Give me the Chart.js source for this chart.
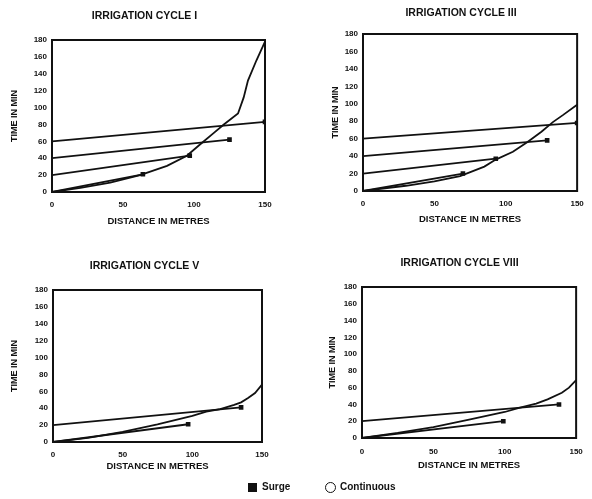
<!DOCTYPE html>
<html>
<head>
<meta charset="utf-8">
<script src="https://cdn.jsdelivr.net/npm/chart.js@4.4.0/dist/chart.umd.min.js"></script>
<style>
  html, body { margin: 0; padding: 0; background: #fff; overflow: hidden; }
  body { width: 592px; height: 499px; position: relative; }
  canvas { position: absolute; }
  .key { position: absolute; font: bold 10px 'Liberation Sans', Arial, sans-serif; color: #111; }
  .sq { position: absolute; left: 248px; top: 483px; width: 9px; height: 9px; background: #111; }
  .ring { position: absolute; left: 325px; top: 482px; width: 9px; height: 9px; border: 1.5px solid #111; border-radius: 50%; }
</style>
</head>
<body>
<canvas id="cycle1" width="292" height="235" style="left:0;top:0"></canvas>
<canvas id="cycle3" width="292" height="235" style="left:300px;top:0"></canvas>
<canvas id="cycle5" width="292" height="235" style="left:0;top:250px"></canvas>
<canvas id="cycle8" width="292" height="235" style="left:300px;top:250px"></canvas>
<div class="sq"></div><div class="key" style="left:262px;top:481px">Surge</div>
<div class="ring"></div><div class="key" style="left:340px;top:481px">Continuous</div>
<script>
// Irrigation cycle I
const cycle1ContDist = [0, 20, 41, 62, 81, 95, 104, 114, 121, 131, 135, 138, 144, 150];
const cycle1ContTime = [0, 5, 11, 20, 31, 43, 56, 70, 80, 93, 112, 132, 156, 178];
const cycle1SurgeStart = [0, 20, 40, 60];
const cycle1SurgeEndDist = [64, 97, 125, 150];
const cycle1SurgeEndTime = [21, 43, 62, 83];

// Irrigation cycle III
const cycle3ContDist = [0, 30, 50, 68, 85, 93, 105, 115, 125, 133, 140, 150];
const cycle3ContTime = [0, 6, 11, 17, 28, 36, 45, 56, 68, 79, 87, 99];
const cycle3SurgeStart = [0, 20, 40, 60];
const cycle3SurgeEndDist = [70, 93, 129, 150];
const cycle3SurgeEndTime = [20, 37, 58, 78];

// Irrigation cycle V
const cycle5ContDist = [0, 25, 50, 75, 100, 110, 120, 130, 135, 140, 145, 150];
const cycle5ContTime = [0, 5, 12, 21, 31, 36, 39, 44, 47, 52, 58, 68];
const cycle5SurgeStart = [0, 20];
const cycle5SurgeEndDist = [97, 135];
const cycle5SurgeEndTime = [21, 41];

// Irrigation cycle VIII
const cycle8ContDist = [0, 25, 50, 75, 100, 110, 122, 130, 140, 145, 150];
const cycle8ContTime = [0, 6, 13, 22, 31, 36, 41, 46, 54, 60, 69];
const cycle8SurgeStart = [0, 20];
const cycle8SurgeEndDist = [99, 138];
const cycle8SurgeEndTime = [20, 40];

const distTicks = [0, 50, 100, 150];
const timeTicks = [0, 20, 40, 60, 80, 100, 120, 140, 160, 180];

const ink = '#111';
Chart.defaults.font.family = "'Liberation Sans', Arial, sans-serif";
Chart.defaults.color = ink;

// box around the plot area
const frame = {
    id: 'frame',
    afterDatasetsDraw(chart) {
        const { ctx, chartArea: a } = chart;
        ctx.save();
        ctx.strokeStyle = ink;
        ctx.lineWidth = 2;
        ctx.strokeRect(a.left, a.top, a.right - a.left, a.bottom - a.top);
        ctx.restore();
    }
};

function drawCycle(id, title, contDist, contTime, surgeStart, surgeEndDist, surgeEndTime, box) {
    const cont = {
        label: 'Continuous',
        data: contDist.map((d, i) => ({ x: d, y: contTime[i] })),
        borderColor: ink,
        borderWidth: 1.8,
        tension: 0,
        pointRadius: 0,
    };
    const surges = surgeStart.map((t0, i) => ({
        label: 'Surge',
        data: [{ x: 0, y: t0 }, { x: surgeEndDist[i], y: surgeEndTime[i] }],
        borderColor: ink,
        backgroundColor: ink,
        borderWidth: 1.8,
        pointStyle: 'rect',
        pointRadius: ctx => ctx.dataIndex === 1 ? 2 : 0,
    }));

    new Chart(document.getElementById(id), {
        type: 'line',
        data: { datasets: [cont, ...surges] },
        options: {
            responsive: false,
            animation: false,
            layout: { padding: { left: box.padLeft, right: box.padRight, top: 0, bottom: 0 } },
            plugins: {
                legend: { display: false },
                tooltip: { enabled: false },
                title: {
                    display: true,
                    text: title,
                    color: ink,
                    font: { size: 10.5, weight: 'bold' },
                    padding: { top: box.titleTop, bottom: box.titleBottom },
                },
            },
            scales: {
                x: {
                    type: 'linear',
                    min: 0,
                    max: 150,
                    grid: { display: false, drawTicks: false },
                    border: { display: false },
                    afterBuildTicks: s => { s.ticks = distTicks.map(v => ({ value: v })); },
                    ticks: { padding: box.tickPad, color: ink, font: { size: 8, weight: 'bold' } },
                    title: {
                        display: true,
                        text: 'DISTANCE IN METRES',
                        color: ink,
                        font: { size: 9.5, weight: 'bold' },
                        padding: { top: 0, bottom: box.xTitleBottom },
                    },
                    afterFit: s => { s.height = box.xHeight; },
                },
                y: {
                    min: 0,
                    max: 180,
                    grid: { display: false, drawTicks: false },
                    border: { display: false },
                    afterBuildTicks: s => { s.ticks = timeTicks.map(v => ({ value: v })); },
                    ticks: { padding: 5, color: ink, font: { size: 8, weight: 'bold' } },
                    title: {
                        display: true,
                        text: 'TIME IN MIN',
                        color: ink,
                        font: { size: 9, weight: 'bold' },
                        padding: { top: box.yTitleTop, bottom: 0 },
                    },
                    afterFit: s => { s.width = box.yWidth; },
                },
                y2: {
                    position: 'right',
                    grid: { display: false, drawTicks: false },
                    border: { display: false },
                    ticks: { display: false },
                    afterFit: s => { s.width = box.rightWidth; },
                },
            },
        },
        plugins: [frame],
    });
}

drawCycle('cycle1', 'IRRIGATION CYCLE I', cycle1ContDist, cycle1ContTime, cycle1SurgeStart, cycle1SurgeEndDist, cycle1SurgeEndTime,
    { padLeft: 4, padRight: 7, titleTop: 9.7, titleBottom: 17.7, tickPad: 8.2, xTitleBottom: 8.3, xHeight: 43, yWidth: 48, yTitleTop: 5.6, rightWidth: 20 });
drawCycle('cycle3', 'IRRIGATION CYCLE III', cycle3ContDist, cycle3ContTime, cycle3SurgeStart, cycle3SurgeEndDist, cycle3SurgeEndTime,
    { padLeft: 30, padRight: 0, titleTop: 7, titleBottom: 14.4, tickPad: 8.2, xTitleBottom: 10.3, xHeight: 44, yWidth: 33, yTitleTop: 0.6, rightWidth: 6 });
drawCycle('cycle5', 'IRRIGATION CYCLE V', cycle5ContDist, cycle5ContTime, cycle5SurgeStart, cycle5SurgeEndDist, cycle5SurgeEndTime,
    { padLeft: 4, padRight: 7, titleTop: 9.7, titleBottom: 17.7, tickPad: 8.2, xTitleBottom: 12.6, xHeight: 43, yWidth: 49, yTitleTop: 5.6, rightWidth: 23 });
drawCycle('cycle8', 'IRRIGATION CYCLE VIII', cycle8ContDist, cycle8ContTime, cycle8SurgeStart, cycle8SurgeEndDist, cycle8SurgeEndTime,
    { padLeft: 27, padRight: 0, titleTop: 6.4, titleBottom: 18, tickPad: 9.2, xTitleBottom: 14.3, xHeight: 47, yWidth: 35, yTitleTop: 0.6, rightWidth: 9 });
</script>
</body>
</html>
